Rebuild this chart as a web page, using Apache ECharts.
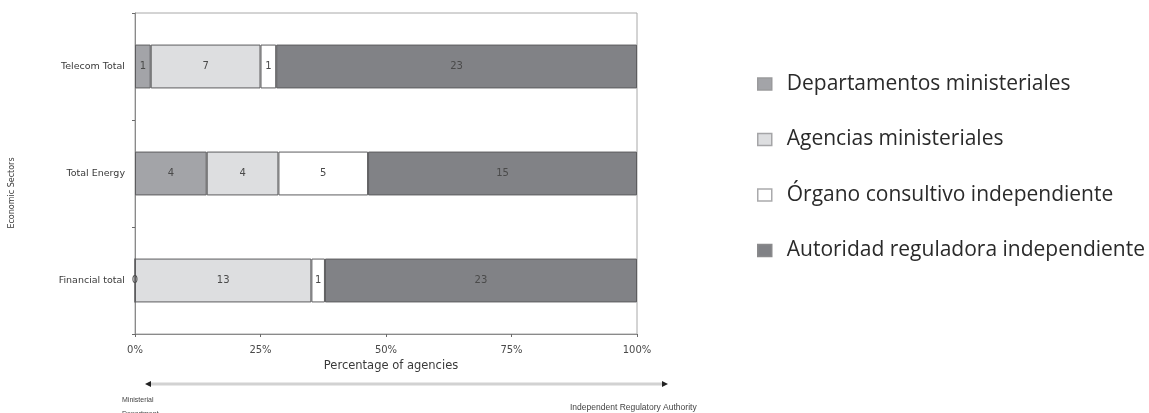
<!DOCTYPE html>
<html>
<head>
<meta charset="utf-8">
<script src="https://cdn.jsdelivr.net/npm/echarts@6/dist/echarts.min.js"></script>
<style>
  html, body { margin: 0; padding: 0; background: #fff; }
  #chart { width: 1149px; height: 413px; }
</style>
</head>
<body>
<div id="chart"></div>
<script>
// Economic sectors shown as horizontal 100% stacked bars
const sectors = ['Telecom Total', 'Total Energy', 'Financial total'];

// Number of agencies of each institutional type, per sector
const departamentos = [1, 4, 0];
const agencias = [7, 4, 13];
const organo = [1, 5, 1];
const autoridad = [23, 15, 23];

const seriesNames = [
  'Departamentos ministeriales',
  'Agencias ministeriales',
  'Órgano consultivo independiente',
  'Autoridad reguladora independiente'
];
const seriesColors = ['#a3a4a8', '#dddee0', '#ffffff', '#818286'];

const xTicks = [0, 25, 50, 75, 100];

const counts = [departamentos, agencias, organo, autoridad];
const totals = sectors.map((_, i) => counts.reduce((s, arr) => s + arr[i], 0));

const chart = echarts.init(document.getElementById('chart'), null, { renderer: 'canvas' });

const GRID = { left: 135, right: 512, top: 13, bottom: 79 };
const axisFont = 'DejaVu Sans, Verdana, sans-serif';

const series = counts.map((arr, k) => ({
  name: seriesNames[k],
  type: 'bar',
  stack: 'share',
  barWidth: '41%',
  itemStyle: { color: seriesColors[k], borderColor: '#5c5c5e', borderWidth: 1 },
  label: {
    show: true,
    position: 'inside',
    color: '#4a4a4a',
    fontFamily: axisFont,
    fontSize: 10,
    formatter: p => String(arr[p.dataIndex])
  },
  data: arr.map((v, i) => v / totals[i] * 100)
}));

const legendBorder = ['#9a9a9c', '#a5a5a7', '#aaaaac', '#8a8a8c'];

const option = {
  animation: false,
  backgroundColor: '#ffffff',
  grid: {
    left: GRID.left, right: GRID.right, top: GRID.top, bottom: GRID.bottom,
    show: true, borderColor: '#a8a8a8', borderWidth: 1, backgroundColor: 'transparent'
  },
  legend: {
    orient: 'vertical',
    left: 752,
    top: 68,
    itemWidth: 14,
    itemHeight: 12,
    itemGap: 33.5,
    icon: 'rect',
    selectedMode: false,
    textStyle: {
      fontFamily: 'Open Sans, Lato, sans-serif',
      fontSize: 21,
      lineHeight: 22,
      color: '#2a2a2a',
      padding: [0, 0, 0, 10]
    },
    data: seriesNames.map((n, k) => ({
      name: n,
      itemStyle: { color: seriesColors[k], borderColor: legendBorder[k], borderWidth: 1.5 }
    }))
  },
  xAxis: {
    type: 'value',
    min: 0,
    max: 100,
    interval: 25,
    name: 'Percentage of agencies',
    nameLocation: 'middle',
    nameGap: 24,
    nameTextStyle: { fontFamily: axisFont, fontSize: 11.5, color: '#3a3a3a', padding: [0, 0, 0, 10] },
    axisLine: { show: true, lineStyle: { color: '#8a8a8a', width: 1 } },
    axisTick: { show: true, length: 3, lineStyle: { color: '#6a6a6a' } },
    splitLine: { show: false },
    axisLabel: {
      formatter: v => xTicks.includes(v) ? v + '%' : '',
      fontFamily: axisFont, fontSize: 10, color: '#4a4a4a', margin: 11
    }
  },
  yAxis: {
    type: 'category',
    data: sectors,
    inverse: true,
    axisLine: { show: true, lineStyle: { color: '#8a8a8a', width: 1 } },
    axisTick: { show: true, length: 3, lineStyle: { color: '#6a6a6a' } },
    axisLabel: { fontFamily: axisFont, fontSize: 9.5, color: '#3a3a3a', margin: 10 }
  },
  series: series
};

chart.setOption(option);

// Scale arrow below the axis: from ministerial department to independent authority
const x0 = chart.convertToPixel({ xAxisIndex: 0 }, 0);
const x100 = chart.convertToPixel({ xAxisIndex: 0 }, 100);
const arrowY = 384;
const aStart = x0 + 10;
const aEnd = x100 + 31;

chart.setOption({
  graphic: [
    {
      type: 'text',
      x: 12,
      y: 193,
      rotation: Math.PI / 2,
      style: {
        text: 'Economic Sectors',
        font: '8px DejaVu Sans, Verdana, sans-serif',
        fill: '#3a3a3a',
        align: 'center',
        verticalAlign: 'middle'
      }
    },
    {
      type: 'line',
      shape: { x1: aStart + 4, y1: arrowY, x2: aEnd - 4, y2: arrowY },
      style: { stroke: '#d2d2d2', lineWidth: 3 }
    },
    {
      type: 'polygon',
      shape: { points: [[aStart, arrowY], [aStart + 6, arrowY - 3], [aStart + 6, arrowY + 3]] },
      style: { fill: '#222' }
    },
    {
      type: 'polygon',
      shape: { points: [[aEnd, arrowY], [aEnd - 6, arrowY - 3], [aEnd - 6, arrowY + 3]] },
      style: { fill: '#222' }
    },
    {
      type: 'text',
      left: 122,
      top: 393,
      style: {
        text: 'Ministerial\nDepartment',
        font: '7px Liberation Sans, Arial, sans-serif',
        fill: '#444',
        lineHeight: 14
      }
    },
    {
      type: 'text',
      left: 570,
      top: 403,
      style: {
        text: 'Independent Regulatory Authority',
        font: '8.5px Liberation Sans, Arial, sans-serif',
        fill: '#444'
      }
    }
  ]
});
</script>
</body>
</html>
